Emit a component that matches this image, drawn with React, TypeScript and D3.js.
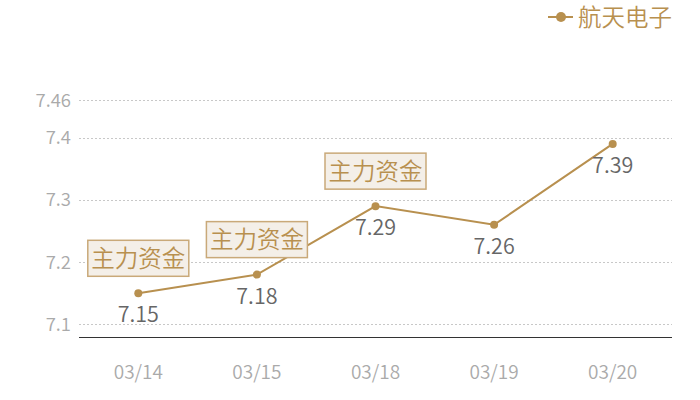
import React from "react";
import * as d3 from "d3";

const categories = ["03/14", "03/15", "03/18", "03/19", "03/20"];
const values = [7.15, 7.18, 7.29, 7.26, 7.39];
const yTicks = [7.1, 7.2, 7.3, 7.4, 7.46];
const annotated = ["03/14", "03/15", "03/18"];
const annotationText = "主力资金";
const seriesName = "航天电子";

const W = 700;
const H = 400;
const left = 79;
const right = 672;
const top = 100.3;
const bottom = 337.5;
const gold = "#b8904f";
const font = "'Noto Sans CJK SC', 'Noto Sans', sans-serif";

export default function App() {
  const x = d3.scaleBand<string>().domain(categories).range([left, right]);
  const y = d3.scaleLinear().domain([7.079, 7.46]).range([bottom, top]);
  const cx = (c: string) => (x(c) ?? 0) + x.bandwidth() / 2;
  const line = d3
    .line<number>()
    .x((_, i) => cx(categories[i]))
    .y((v) => y(v));

  return (
    <svg
      width={W}
      height={H}
      style={{ position: "absolute", left: 0, top: 0, fontFamily: font, fontWeight: 350 }}
    >
      <rect width={W} height={H} fill="#ffffff" />
      {yTicks.map((t) => (
        <g key={t}>
          <line
            x1={left}
            x2={right}
            y1={Math.round(y(t)) + 0.5}
            y2={Math.round(y(t)) + 0.5}
            stroke="#c8c8c8"
            strokeDasharray="2,2"
          />
          <text
            x={71}
            y={y(t)}
            dy="0.35em"
            textAnchor="end"
            fontSize={18.5}
            fill="#aaaaaa"
          >
            {String(t)}
          </text>
        </g>
      ))}
      <line x1={left} x2={right} y1={bottom} y2={bottom} stroke="#333" strokeWidth={1} />
      {categories.map((c) => (
        <text
          key={c}
          x={cx(c)}
          y={372}
          dy="0.35em"
          textAnchor="middle"
          fontSize={19}
          fill="#aaaaaa"
        >
          {c}
        </text>
      ))}
      <path d={line(values) ?? ""} fill="none" stroke={gold} strokeWidth={2} />
      {values.map((v, i) => (
        <g key={i}>
          <circle cx={cx(categories[i])} cy={y(v)} r={4} fill={gold} />
          <text
            x={cx(categories[i])}
            y={y(v) + 29}
            textAnchor="middle"
            fontSize={21.5}
            fill="#666666"
          >
            {v.toFixed(2)}
          </text>
        </g>
      ))}
      {annotated.map((c) => {
        const i = categories.indexOf(c);
        const px = cx(c);
        const py = y(values[i]);
        const bw = 101;
        const bh = 36;
        return (
          <g key={c}>
            <rect
              x={px - bw / 2}
              y={py - 17 - bh}
              width={bw}
              height={bh}
              fill="#f4efe8"
              stroke="#c9a979"
              strokeWidth={1.5}
            />
            <text
              x={px}
              y={py - 17 - bh / 2}
              dy="0.36em"
              textAnchor="middle"
              fontSize={23.5}
              fill={gold}
            >
              {annotationText}
            </text>
          </g>
        );
      })}
      <g>
        <line x1={548} x2={573} y1={17} y2={17} stroke={gold} strokeWidth={2} />
        <circle cx={561} cy={17} r={5} fill={gold} />
        <text x={578} y={18} dy="0.36em" fontSize={23.5} fill={gold}>
          {seriesName}
        </text>
      </g>
    </svg>
  );
}
